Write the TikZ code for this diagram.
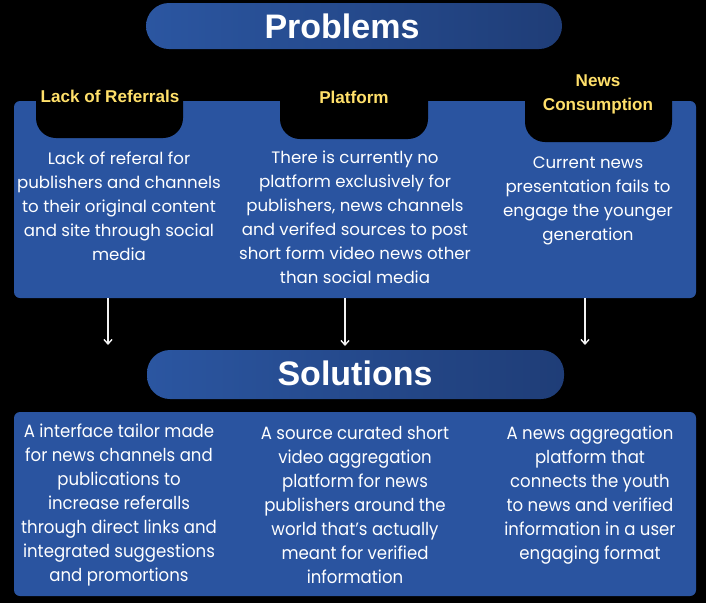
\documentclass[tikz,border=0pt]{standalone}
\usepackage{fontspec}
\setmainfont{Poppins}
\newfontfamily\headfont{Liberation Sans}
\newfontfamily\solfont{Poppins}[FakeStretch=0.93]
\usetikzlibrary{arrows.meta,positioning}
\definecolor{panelblue}{HTML}{2A54A0}
\definecolor{pillleft}{HTML}{2B56A1}
\definecolor{pillright}{HTML}{1F3D77}
\definecolor{tabyellow}{HTML}{FFE06A}
\tikzset{
  pill/.style={left color=pillleft, right color=pillright, draw=none,
    rounded corners=23pt},
  pilltext/.style={text=white, font=\headfont\bfseries\fontsize{34}{36}\selectfont},
  panel/.style={fill=panelblue, draw=none, rounded corners=6pt},
  tabcut/.style={fill=black, draw=none, rounded corners=20pt},
  tabtext/.style={text=tabyellow, align=center,
    font=\headfont\bfseries\fontsize{17.1}{24}\selectfont},
  bodytext/.style={text=white, align=center,
    font=\fontsize{16.6}{24}\selectfont},
  soltext/.style={text=white, align=center,
    font=\solfont\fontsize{17.8}{24}\selectfont},
  flow/.style={draw=white!90!gray, line width=1.6pt,
    -{Straight Barb[length=4.5pt,width=8pt,line width=1.4pt]}},
}
\begin{document}
\begin{tikzpicture}[x=1pt,y=-1pt]
  \fill[black] (0,0) rectangle (706,603);
  \useasboundingbox (0,0) rectangle (706,603);

  % Problems banner
  \fill[pill] (146,3) rectangle (562,49);
  \node[pilltext] (problems) at (342,26) {Problems};

  % upper panel with its three black tabs
  \fill[panel] (14,101) rectangle (696,298);
  \fill[tabcut] (36,70) rectangle (183,138);
  \fill[tabcut] (280,70) rectangle (428,139);
  \fill[tabcut] (525,70) rectangle (672,142);

  \node[tabtext] (t1) at (110,96) {Lack of Referrals};
  \node[tabtext] (t2) at (354,97) {Platform};
  \node[tabtext] (t3) at (598,94) {News\\Consumption};

  \node[bodytext] (p1) at (119,206) {Lack of referal for\\publishers and channels\\to their original content\\and site through social\\media};
  \node[bodytext] (p2) at (355,217) {There is currently no\\platform exclusively for\\publishers, news channels\\and verifed sources to post\\short form video news other\\than social media};
  \node[bodytext] (p3) at (588,201) {Current news\\presentation fails to\\engage the younger\\generation};

  % arrows down to the solutions
  \coordinate (a1s) at (108,298);
  \coordinate (a1e) at (108,345);
  \coordinate (a2s) at (345,298);
  \coordinate (a2e) at (345,346);
  \coordinate (a3s) at (585,298);
  \coordinate (a3e) at (585,345);
  \draw[flow] (a1s) -- (a1e);
  \draw[flow] (a2s) -- (a2e);
  \draw[flow] (a3s) -- (a3e);

  % Solutions banner
  \fill[pill] (147,350) rectangle (564,399);
  \node[pilltext] (solutions) at (355,373) {Solutions};

  % lower panel
  \fill[panel] (14,412) rectangle (696,596);
  \node[soltext] (s1) at (119,505) {A interface tailor made\\for news channels and\\publications to\\increase referalls\\through direct links and\\integrated suggestions\\and promortions};
  \node[soltext] (s2) at (355,505) {A source curated short\\video aggregation\\platform for news\\publishers around the\\world that’s actually\\meant for verified\\information};
  \node[soltext] (s3) at (590,495) {A news aggregation\\platform that\\connects the youth\\to news and verified\\information in a user\\engaging format};
\end{tikzpicture}
\end{document}
